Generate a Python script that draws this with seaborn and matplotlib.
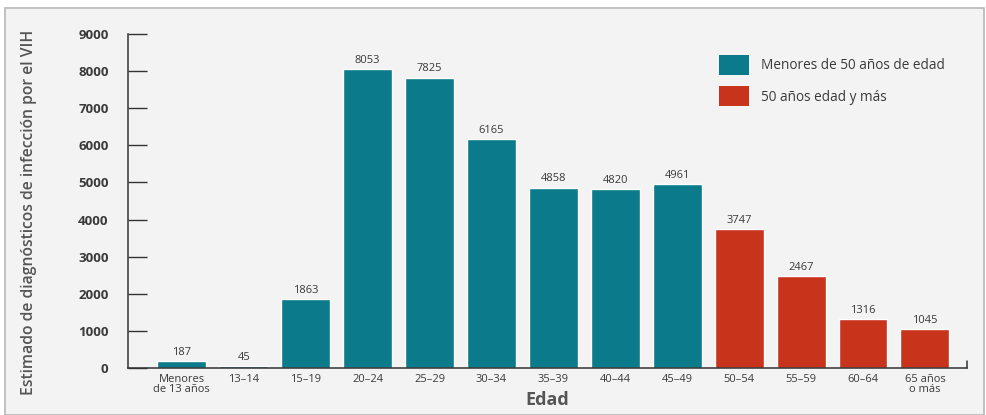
import matplotlib
matplotlib.use("Agg")
import matplotlib.pyplot as plt
from matplotlib.patches import Rectangle, Patch
import seaborn as sns
import pandas as pd

# Age groups and estimated HIV diagnoses
edades = ["Menores\nde 13 años", "13–14", "15–19", "20–24", "25–29", "30–34",
          "35–39", "40–44", "45–49", "50–54", "55–59", "60–64", "65 años\no más"]
diagnosticos = [187, 45, 1863, 8053, 7825, 6165, 4858, 4820, 4961, 3747, 2467, 1316, 1045]
grupo = ["Menores de 50 años de edad"] * 9 + ["50 años edad y más"] * 4
y_ticks = [0, 1000, 2000, 3000, 4000, 5000, 6000, 7000, 8000, 9000]

TEAL = "#0b7a8a"
RED = "#c8331c"
BG = "#f3f3f3"
TXT = "#3a3a3a"

df = pd.DataFrame({"Edad": edades, "Valor": diagnosticos, "Grupo": grupo})

sns.set_theme(style="white")
plt.rcParams["font.family"] = ["Open Sans", "DejaVu Sans"]

fig = plt.figure(figsize=(9.86, 4.15), dpi=100)
fig.patch.set_facecolor("white")
# framed panel behind the chart
fig.patches.append(Rectangle((5 / 986, 0.0), 979 / 986, 1 - 8 / 415,
                             transform=fig.transFigure, facecolor=BG,
                             edgecolor="#b8b8b8", linewidth=1.2, zorder=-10))

ax = fig.add_axes([128 / 986, 1 - 368 / 415, (967 - 128) / 986, (368 - 34) / 415])
ax.set_facecolor("none")

sns.barplot(data=df, x="Edad", y="Valor", hue="Grupo",
            palette={"Menores de 50 años de edad": TEAL, "50 años edad y más": RED},
            dodge=False, width=0.79, saturation=1, ax=ax, legend=False)

for i, v in enumerate(diagnosticos):
    ax.text(i, v + 90, str(v), ha="center", va="bottom", fontsize=8, color=TXT)

ax.set_xlim(-0.87, 12.68)
ax.set_ylim(0, 9000)
ax.set_yticks(y_ticks)
ax.set_yticklabels([str(t) for t in y_ticks], fontsize=9.5, color=TXT, fontweight="bold")
ax.tick_params(axis="y", direction="in", length=14, width=1, color="#333333", pad=14, left=True)
ax.tick_params(axis="x", length=0, pad=4, labelsize=8, labelcolor=TXT)
for lbl in ax.get_xticklabels():
    lbl.set_linespacing(0.9)

for s in ["top", "right"]:
    ax.spines[s].set_visible(False)
for s in ["left", "bottom"]:
    ax.spines[s].set_color("#333333")
    ax.spines[s].set_linewidth(1.1)
# small end tick on the x axis
ax.plot([1, 1], [0, 0.02], transform=ax.transAxes, color="#333333", lw=1.1, clip_on=False)

ax.set_xlabel("Edad", fontsize=13, color="#555555", fontweight="bold")
ax.set_ylabel("Estimado de diagnósticos de infección por el VIH", fontsize=11.3,
              color="#555555", fontweight="semibold")
ax.yaxis.set_label_coords(-0.108, 0.467)
ax.xaxis.set_label_coords(0.5, -0.07)

handles = [Patch(facecolor=TEAL, edgecolor="none"), Patch(facecolor=RED, edgecolor="none")]
ax.legend(handles, ["Menores de 50 años de edad", "50 años edad y más"],
          loc="upper left", bbox_to_anchor=(0.69, 0.975), frameon=False,
          fontsize=9.8, handlelength=2.2, handleheight=1.9, handletextpad=0.9,
          labelspacing=0.85, labelcolor=TXT)

fig.savefig("out.png", dpi=100, facecolor=fig.get_facecolor())
